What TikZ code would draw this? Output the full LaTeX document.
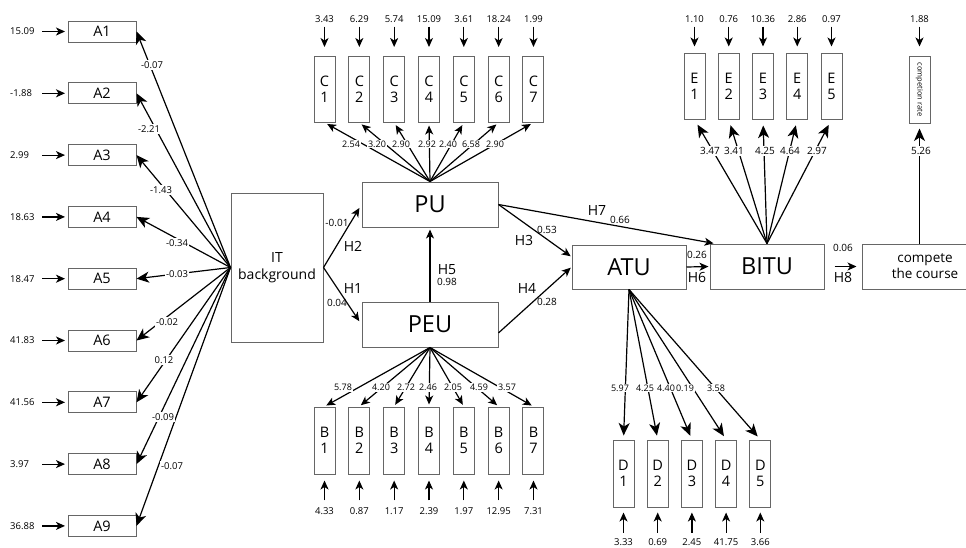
\documentclass[tikz,border=0pt]{standalone}
\usepackage{fontspec}
\setmainfont{Open Sans}
\usetikzlibrary{arrows.meta}
\begin{document}
\begin{tikzpicture}[x=1pt,y=-1pt,
  box/.style={draw=black!60, line width=1pt, inner sep=0pt, align=center, font=\fontsize{14.5}{16}\selectfont},
  abox/.style={box, minimum width=68pt, minimum height=21pt},
  ind/.style={box, minimum width=21pt, minimum height=66pt},
  lat/.style={box, minimum width=136pt, minimum height=45pt, font=\fontsize{23.5}{26}\selectfont},
  num/.style={inner sep=0pt, font=\fontsize{9.5}{11}\selectfont},
  lbl/.style={inner sep=1pt, fill=white, font=\fontsize{9}{10}\selectfont},
  hyp/.style={inner sep=0pt, font=\fontsize{14}{16}\selectfont},
  coef/.style={inner sep=0pt, font=\fontsize{10}{12}\selectfont},
  conn/.style={line width=1.2pt, draw=black},
  bigarr/.style={conn, -{Stealth[length=12.5pt,width=11pt,inset=3.5pt]}},
  midarr/.style={conn, -{Stealth[length=9pt,width=8pt,inset=2.5pt]}},
]
\useasboundingbox (0,0) rectangle (966,547);

% ---------- latent constructs ----------
\node[box, minimum width=92pt, minimum height=149pt, font=\fontsize{14}{17}\selectfont] (IT) at (277,267.5) {IT\\background};
\node[lat] (PU) at (430,204.5) {PU};
\node[lat] (PEU) at (430,324.5) {PEU};
\node[lat, minimum width=114pt, minimum height=44pt] (ATU) at (629,267) {ATU};
\node[lat, minimum width=114pt, minimum height=45pt] (BITU) at (767,266.5) {BITU};
\node[box, minimum width=126pt, minimum height=45pt, font=\fontsize{13.5}{16}\selectfont] (CC) at (925,266.5) {compete\\the course};
\node[box, minimum width=21pt, minimum height=67pt] (CR) at (919.5,89.5) {\rotatebox{-90}{\fontsize{7.5}{9}\selectfont competion rate}};

% ---------- A indicators ----------
\foreach \i/\e in {1/15.09,2/-1.88,3/2.99,4/18.63,5/18.47,6/41.83,7/41.56,8/3.97,9/36.88}{
  \node[abox] (A\i) at (102,{31.5+61.8*(\i-1)}) {A\i};
  \node[num, anchor=west] (ae\i) at (10,{31.5+61.8*(\i-1)}) {\e};
  \coordinate (as\i) at (42,{31.5+61.8*(\i-1)});
  \draw[midarr, shorten >=2.5pt] (as\i) -- (A\i);
  \draw[bigarr] (IT.west) -- (A\i.east);
}

% ---------- C indicators ----------
\foreach \i/\e in {1/3.43,2/6.29,3/5.74,4/15.09,5/3.61,6/18.24,7/1.99}{
  \node[ind] (C\i) at ({324.5+34.83*(\i-1)},89) {C\\\i};
  \node[num] (ce\i) at ({324.5+34.83*(\i-1)},19) {\e};
  \draw[midarr, shorten <=4pt, shorten >=8.5pt] (ce\i) -- (C\i);
  \draw[midarr, shorten >=3pt] (PU.north) -- (C\i.south);
}

% ---------- B indicators ----------
\foreach \i/\e in {1/4.33,2/0.87,3/1.17,4/2.39,5/1.97,6/12.95,7/7.31}{
  \node[ind, minimum height=67pt] (B\i) at ({324.5+34.83*(\i-1)},440.5) {B\\\i};
  \node[num] (be\i) at ({324.5+34.83*(\i-1)},511) {\e};
  \draw[midarr, shorten <=7pt, shorten >=6pt] (be\i) -- (B\i);
  \draw[midarr, shorten >=2pt] (PEU.south) -- (B\i.north);
}

% ---------- D indicators ----------
\foreach \i/\e in {1/3.33,2/0.69,3/2.45,4/41.75,5/3.66}{
  \node[ind, minimum height=67pt] (D\i) at ({623.5+34.2*(\i-1)},473.5) {D\\\i};
  \node[num] (de\i) at ({623.5+34.2*(\i-1)},542.5) {\e};
  \draw[midarr, shorten <=6pt, shorten >=5pt] (de\i) -- (D\i);
  \draw[bigarr, shorten >=4pt] (ATU.south) -- (D\i.north);
}

% ---------- E indicators ----------
\foreach \i/\e in {1/1.10,2/0.76,3/10.36,4/2.86,5/0.97}{
  \node[ind] (E\i) at ({694.5+34.25*(\i-1)},86) {E\\\i};
  \node[num] (ee\i) at ({694.5+34.25*(\i-1)},19) {\e};
  \draw[midarr, shorten <=4pt, shorten >=6pt] (ee\i) -- (E\i);
  \draw[bigarr, shorten >=6pt] (BITU.north) -- (E\i.south);
}

% ---------- completion rate ----------
\node[num] (cre) at (919.5,19) {1.88};
\draw[midarr, shorten <=4pt, shorten >=9pt] (cre) -- (CR);
\draw[bigarr, shorten >=5pt] (CR.south |- CC.north) -- (CR.south);

% ---------- structural paths ----------
\draw[midarr, shorten >=4pt] (IT.east) -- (PU.west);
\draw[midarr, shorten >=4pt] (IT.east) -- (PEU.west);
\draw[midarr, shorten >=2pt] (PEU.north) -- (PU.south);
\draw[midarr, shorten >=1pt] (PU.east) -- (ATU.170);
\draw[midarr, shorten >=1pt] (PEU.-7) -- (ATU.west);
\draw[midarr, shorten >=1pt] (PU.east) -- ([xshift=5pt]BITU.north west);
\draw[midarr, shorten >=1pt] (ATU.east) -- (BITU.west);
\draw[midarr, shorten <=10pt, shorten >=5pt] (BITU.east) -- (CC.west);

% ---------- loading labels ----------
\foreach \l/\x/\y [count=\k] in {-0.07/152/65, -2.21/149/129, -1.43/161/190, -0.34/177/243, -0.03/177/274, -0.02/167/322, 0.12/164/360, -0.09/163/417, -0.07/172/466}{
  \node[lbl, font=\fontsize{9.5}{11}\selectfont] (al\k) at (\x,\y) {\l};
}
\foreach \l/\x [count=\k] in {2.54/351, 3.20/377, 2.90/401, 2.92/427, 2.40/448, 6.58/471, 2.90/495}{
  \node[lbl] (cl\k) at (\x,144) {\l};
}
\foreach \l/\x [count=\k] in {5.78/343, 4.20/381, 2.72/406, 2.46/428, 2.05/453, 4.59/479, 3.57/507}{
  \node[lbl] (bl\k) at (\x,387.5) {\l};
}
\foreach \l/\x [count=\k] in {5.97/620, 4.25/645, 4.40/666, 0.19/685, 3.58/716}{
  \node[lbl] (dl\k) at (\x,388) {\l};
}
\foreach \l/\x [count=\k] in {3.47/710, 3.41/734, 4.25/765, 4.64/790, 2.97/817}{
  \node[lbl, font=\fontsize{10}{11}\selectfont] (el\k) at (\x,151) {\l};
}
\node[lbl, font=\fontsize{10}{11}\selectfont] (crl) at (921,151) {5.26};

% ---------- path labels ----------
\node[coef] (c1) at (337,223) {-0.01};
\node[hyp]  (h2) at (353,246) {H2};
\node[hyp]  (h1) at (353,288) {H1};
\node[coef] (c2) at (337,303) {0.04};
\node[hyp]  (h5) at (447,270) {H5};
\node[coef] (c5) at (447,282) {0.98};
\node[hyp]  (h3) at (524,240) {H3};
\node[coef] (c3) at (547,230) {0.53};
\node[hyp]  (h4) at (527,288) {H4};
\node[coef] (c4) at (547,302) {0.28};
\node[hyp]  (h7) at (597,210) {H7};
\node[coef] (c7) at (620,220) {0.66};
\node[coef] (c6) at (697,255) {0.26};
\node[hyp]  (h6) at (697,277) {H6};
\node[coef] (c8) at (843,248) {0.06};
\node[hyp]  (h8) at (843,277) {H8};
\end{tikzpicture}
\end{document}
